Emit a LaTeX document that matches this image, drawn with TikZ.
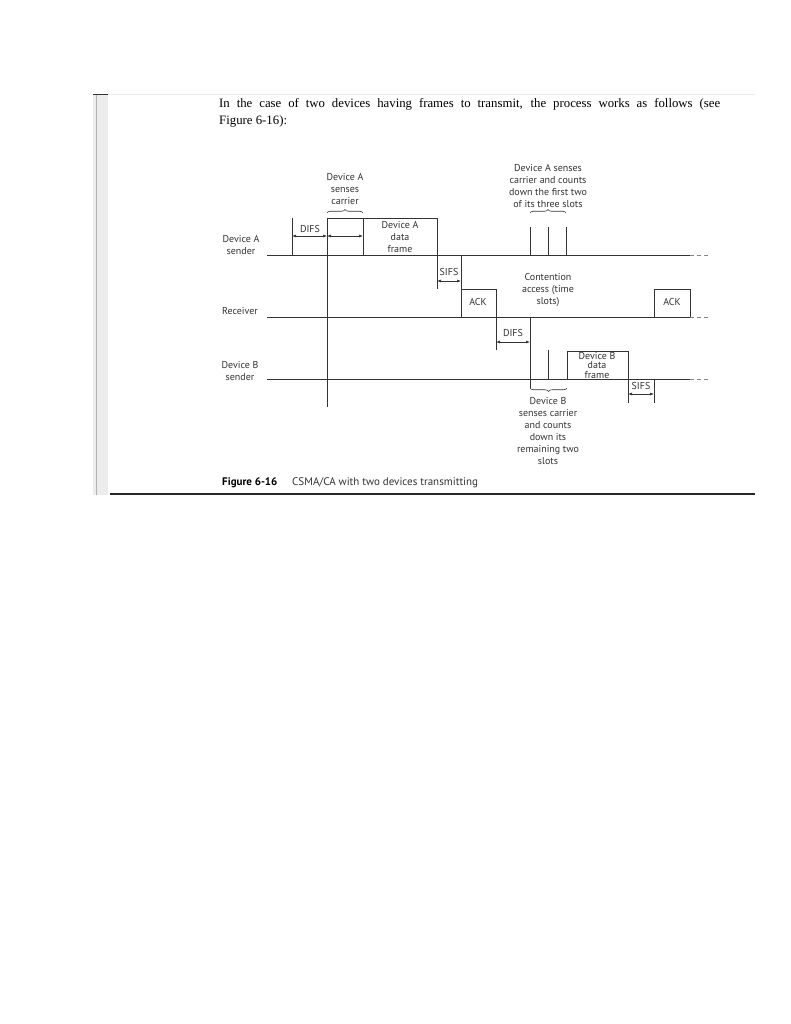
\documentclass[tikz,border=0pt]{standalone}
\usepackage{fontspec}
\setmainfont{Liberation Serif}
\newfontfamily\labelfont{PT Sans}
\usetikzlibrary{positioning,calc,arrows.meta,decorations.pathreplacing}
\definecolor{inkgrey}{HTML}{333333}
\definecolor{railgrey}{HTML}{ECECEC}

\begin{document}
\begin{tikzpicture}[x=1pt, y=-1pt,
    timeline/.style={draw=inkgrey, line width=0.8pt},
    trail/.style={draw=inkgrey!60, line width=0.8pt, dash pattern=on 4pt off 3pt},
    span/.style={draw=inkgrey, line width=0.6pt, {Latex[length=4pt,width=3pt]}-{Latex[length=4pt,width=3pt]}},
    bracket/.style={draw=inkgrey, line width=0.6pt, decorate, decoration={brace, amplitude=3.5pt}},
    tag/.style={font=\labelfont\fontsize{10}{12}\selectfont, text=inkgrey, inner sep=0pt, align=center},
    tighttag/.style={font=\labelfont\fontsize{10}{9.2}\selectfont, text=inkgrey, inner sep=0pt, align=center}]
    \useasboundingbox (0,0) rectangle (791,1024);
    \fill[white] (0,0) rectangle (791,1024);

    % page furniture
    \fill[railgrey] (93,95) rectangle (108,495);
    \draw[black!30, line width=0.8pt] (96,95) -- (96,495);
    \draw[black!8, line width=1pt] (93,95) -- (755,95);
    \draw[inkgrey, line width=1pt] (93,95) -- (108,95);
    \draw[black!85, line width=2.5pt] (110,494) -- (755,494);

    \node[anchor=base west, inner sep=0pt, text width=501pt, align=justify,
          font=\fontsize{12.8}{17}\selectfont] (intro) at (219,108)
        {In the case of two devices having frames to transmit, the process works as follows (see\linebreak Figure 6-16):};

    % rails
    \coordinate (aL) at (267,255);  \coordinate (aR) at (690,255);  \coordinate (aE) at (708,255);
    \coordinate (rL) at (267,317);  \coordinate (rR) at (690,317);  \coordinate (rE) at (708,317);
    \coordinate (bL) at (267,379);  \coordinate (bR) at (690,379);  \coordinate (bE) at (708,379);
    \draw[timeline] (aL) -- (aR);  \draw[trail] (aR) -- (aE);
    \draw[timeline] (rL) -- (rR);  \draw[trail] (rR) -- (rE);
    \draw[timeline] (bL) -- (bR);  \draw[trail] (bR) -- (bE);

    \node[tag] (aname) at (241,245.5) {Device A\\sender};
    \node[tag] (rname) at (240,311) {Receiver};
    \node[tag] (bname) at (240,371.5) {Device B\\sender};

    % device A: DIFS, sensing, data frame
    \coordinate (difsA) at (292,218);
    \coordinate (senseA) at (327,218);
    \coordinate (frameA) at (363,218);
    \coordinate (endA) at (437,218);
    \draw[timeline] (difsA) -- (difsA |- aL);
    \draw[timeline] (senseA) -- (327,407);
    \draw[timeline] (senseA) -- (endA) -- (437,289);
    \draw[timeline] (frameA) -- (frameA |- aL);
    \draw[span] (292,236) -- (327,236);
    \draw[span] (327,236) -- (363,236);
    \node[tag] (difsAtag) at (310,229) {DIFS};
    \node[tag] (frameAtag) at (400,237) {Device A\\data\\frame};
    \draw[bracket] (327,213) -- (363,213);
    \node[tag] (senseAtag) at (345,189) {Device A\\senses\\carrier};

    % receiver: SIFS, ACK
    \coordinate (ackTL) at (461,289);
    \coordinate (ackTR) at (496,289);
    \draw[timeline] (461,255) -- (461,317);
    \draw[timeline] (ackTL) -- (ackTR) -- (496,350);
    \draw[span] (437,281) -- (461,281);
    \node[tag] (sifsAtag) at (449,272) {SIFS};
    \node[tag] (ack1) at (478,302) {ACK};

    % device B: DIFS
    \draw[span] (496,342) -- (530,342);
    \node[tag] (difsBtag) at (513,333) {DIFS};
    \draw[timeline] (530,317) -- (530,388);

    % contention slots of device A
    \foreach \sx in {530,548,566}
        \draw[timeline] (\sx,227) -- (\sx,255);
    \draw[bracket] (530,213) -- (566,213);
    \node[tag] (slotsAtag) at (548,186) {Device A senses\\carrier and counts\\down the first two\\of its three slots};
    \node[tag] (contention) at (548,290) {Contention\\access (time\\slots)};

    % second ACK
    \draw[timeline] (654,317) -- (654,289) -- (690,289) -- (690,317);
    \node[tag] (ack2) at (672,302) {ACK};

    % device B: slots and data frame
    \draw[timeline] (548,350) -- (548,379);
    \draw[timeline] (567,379) -- (567,351) -- (628,351) -- (628,403);
    \node[tighttag] (frameBtag) at (597,365.5) {Device B\\data\\frame};
    \draw[bracket] (567,388) -- (530,388);
    \node[tag] (slotsBtag) at (548,431) {Device B\\senses carrier\\and counts\\down its\\remaining two\\slots};

    % final SIFS
    \draw[timeline] (654,379) -- (654,403);
    \draw[span] (628,394) -- (654,394);
    \node[tag] (sifsBtag) at (641,386) {SIFS};

    % caption
    \node[anchor=base west, inner sep=0pt, font=\labelfont\bfseries\fontsize{11}{13}\selectfont] (figno) at (222,485) {Figure 6-16};
    \node[anchor=base west, inner sep=0pt, font=\labelfont\fontsize{11}{13}\selectfont, text=inkgrey] (figcap) at (292,485) {CSMA/CA with two devices transmitting};
\end{tikzpicture}
\end{document}
